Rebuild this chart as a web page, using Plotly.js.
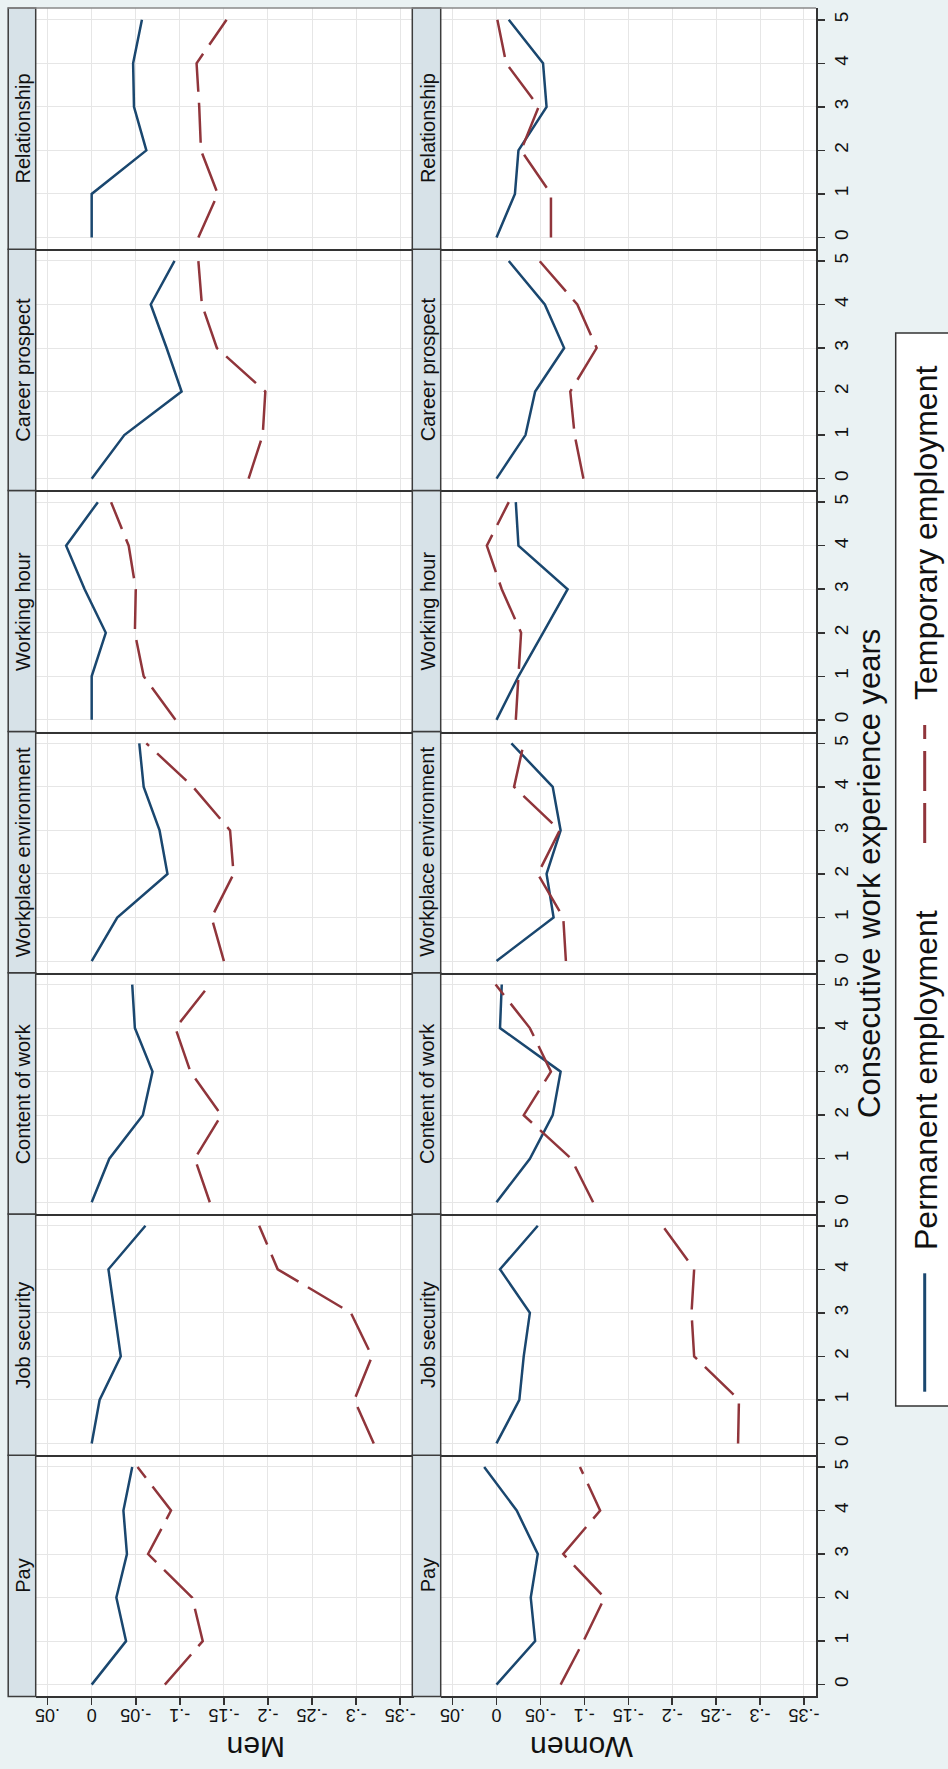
<!DOCTYPE html>
<html><head><meta charset="utf-8">
<script src="https://cdn.plot.ly/plotly-3.0.1.min.js"></script>
<style>html,body{margin:0;padding:0;background:#EAF2F3;} #chart{width:948px;height:1769px;}</style>
</head><body><div id="chart"></div>
<script>
// ---------------- data ----------------
const years = [0, 1, 2, 3, 4, 5];
const yearLabels = ['0', '1', '2', '3', '4', '5'];
const domains = ['Pay', 'Job security', 'Content of work', 'Workplace environment', 'Working hour', 'Career prospect', 'Relationship'];
const genders = ['Men', 'Women'];
const seriesNames = ['Permanent employment', 'Temporary employment'];
const valueTicks = [0.05, 0, -0.05, -0.1, -0.15, -0.2, -0.25, -0.3, -0.35];
const valueTickLabels = ['.05', '0', '-.05', '-.1', '-.15', '-.2', '-.25', '-.3', '-.35'];
const xTitle = 'Consecutive work experience years';

// rows follow "domains"; each row = values for years 0..5
const menPermanent = [
  [0, -0.039, -0.028, -0.040, -0.036, -0.046],
  [0, -0.009, -0.033, -0.026, -0.019, -0.061],
  [0, -0.020, -0.058, -0.069, -0.049, -0.046],
  [0, -0.029, -0.086, -0.077, -0.059, -0.054],
  [0, 0, -0.016, 0.008, 0.029, -0.007],
  [0, -0.037, -0.102, -0.085, -0.067, -0.094],
  [0, 0, -0.062, -0.048, -0.047, -0.057]
];
const menTemporary = [
  [-0.083, -0.126, -0.114, -0.064, -0.090, -0.052],
  [-0.320, -0.298, -0.318, -0.294, -0.211, -0.190],
  [-0.134, -0.117, -0.147, -0.112, -0.095, -0.134],
  [-0.150, -0.136, -0.161, -0.157, -0.115, -0.062],
  [-0.095, -0.059, -0.049, -0.050, -0.042, -0.022],
  [-0.178, -0.194, -0.197, -0.142, -0.125, -0.121],
  [-0.121, -0.143, -0.124, -0.122, -0.119, -0.153]
];
const womenPermanent = [
  [0, -0.044, -0.039, -0.047, -0.023, 0.014],
  [0, -0.026, -0.031, -0.038, -0.004, -0.047],
  [0, -0.038, -0.064, -0.073, -0.004, -0.006],
  [0, -0.065, -0.057, -0.073, -0.064, -0.017],
  [0, -0.025, -0.053, -0.081, -0.025, -0.022],
  [0, -0.033, -0.044, -0.077, -0.055, -0.014],
  [0, -0.021, -0.025, -0.057, -0.053, -0.014]
];
const womenTemporary = [
  [-0.073, -0.099, -0.123, -0.076, -0.118, -0.095],
  [-0.275, -0.276, -0.225, -0.222, -0.225, -0.189],
  [-0.110, -0.085, -0.031, -0.062, -0.038, 0.001],
  [-0.079, -0.076, -0.047, -0.072, -0.020, -0.031],
  [-0.022, -0.025, -0.028, -0.006, 0.011, -0.014],
  [-0.099, -0.089, -0.084, -0.114, -0.092, -0.049],
  [-0.062, -0.062, -0.028, -0.048, -0.011, -0.001]
];

// ---------------- geometry / style ----------------
const W = 948, H = 1769;
const fx = x => x / W;
const fy = y => 1 - y / H;
const cols = [
  { stripL: 8.2, stripR: 35.7, plotL: 35.7, plotR: 412.3, label: 256 },
  { stripL: 412.3, stripR: 440.7, plotL: 440.7, plotR: 816, label: 582 }
];
const panelTop0 = 8, panelH = 241.2;
const navy = '#1A476F', maroon = '#90353B';
const bg = '#EAF2F3', stripFill = '#D7E2E8', dark = '#333333', grid = '#E6E6E6';
const FONT = 'Liberation Sans, Arial, sans-serif';
const xRange = [0.0635, -0.3637];
const yRange = [-0.27, 5.27];

const data = [Object.assign({})].slice(1);
const layout = {
  width: W, height: H,
  margin: { l: 0, r: 0, t: 0, b: 0, pad: 0 },
  paper_bgcolor: bg, plot_bgcolor: '#FFFFFF',
  showlegend: false,
  font: { family: FONT, color: '#111' },
  shapes: [], annotations: []
};

const sets = [[menPermanent, menTemporary], [womenPermanent, womenTemporary]];
let n = 0;
for (let c = 0; c < 2; c++) {
  for (let i = 0; i < domains.length; i++) {
    n++;
    const k = domains.length - 1 - i; // 0 = top panel
    const top = panelTop0 + k * panelH, bot = top + panelH;
    const col = cols[c];
    const xa = 'xaxis' + (n === 1 ? '' : n), ya = 'yaxis' + (n === 1 ? '' : n);
    const xr = 'x' + (n === 1 ? '' : n), yr = 'y' + (n === 1 ? '' : n);
    const isBottom = (i === 0);
    const isRight = (c === 1);
    layout[xa] = {
      domain: [fx(col.plotL), fx(col.plotR)], anchor: yr, range: xRange,
      tickmode: 'array', tickvals: valueTicks, ticktext: valueTickLabels,
      showgrid: true, gridcolor: grid, gridwidth: 1, zeroline: false,
      showline: true, linecolor: dark, linewidth: 2,
      ticks: isBottom ? 'outside' : '', ticklen: 7, tickwidth: 1.5, tickcolor: dark,
      showticklabels: isBottom, tickangle: 180,
      tickfont: { family: FONT, size: 18, color: '#111' }, fixedrange: true
    };
    layout[ya] = {
      domain: [fy(bot), fy(top)], anchor: xr, range: yRange, side: 'right',
      tickmode: 'array', tickvals: years, ticktext: yearLabels,
      showgrid: true, gridcolor: grid, gridwidth: 1, zeroline: false,
      showline: true, linecolor: dark, linewidth: 2,
      ticks: isRight ? 'outside' : '', ticklen: 7, tickwidth: 1.5, tickcolor: dark,
      showticklabels: isRight, tickangle: -90,
      tickfont: { family: FONT, size: 19, color: '#111' }, fixedrange: true
    };
    const [perm, temp] = sets[c];
    data.push({ type: 'scatter', mode: 'lines', x: perm[i], y: years, xaxis: xr, yaxis: yr,
      name: seriesNames[0], line: { color: navy, width: 2.5 }, hoverinfo: 'skip' });
    data.push({ type: 'scatter', mode: 'lines', x: temp[i], y: years, xaxis: xr, yaxis: yr,
      name: seriesNames[1], line: { color: maroon, width: 2.5, dash: '40px,11px' }, hoverinfo: 'skip' });
    // strip
    layout.shapes.push({ type: 'rect', xref: 'paper', yref: 'paper',
      x0: fx(col.stripL), x1: fx(col.stripR), y0: fy(bot), y1: fy(top),
      fillcolor: stripFill, line: { color: '#3c3c3c', width: 1.5 } });
    layout.annotations.push({ xref: 'paper', yref: 'paper', x: fx((col.stripL + col.stripR) / 2 + 1),
      y: fy((top + bot) / 2), text: domains[i], textangle: -90, showarrow: false,
      xanchor: 'center', yanchor: 'middle', font: { family: FONT, size: 20, color: '#111' } });
  }
}
// top border
layout.shapes.push({ type: 'line', xref: 'paper', yref: 'paper', x0: fx(8.2), x1: fx(816), y0: fy(8), y1: fy(8),
  line: { color: '#8a8a8a', width: 1.5 } });

// row titles (Men / Women), upside down
for (let c = 0; c < 2; c++) {
  layout.annotations.push({ xref: 'paper', yref: 'paper', x: fx(cols[c].label), y: fy(1748),
    text: genders[c], textangle: 180, showarrow: false, xanchor: 'center', yanchor: 'middle',
    font: { family: FONT, size: 30, color: '#111' } });
}
// axis title
layout.annotations.push({ xref: 'paper', yref: 'paper', x: fx(869), y: fy(874), text: xTitle,
  textangle: -90, showarrow: false, xanchor: 'center', yanchor: 'middle',
  font: { family: FONT, size: 31, color: '#111' } });

// legend box
layout.shapes.push({ type: 'rect', xref: 'paper', yref: 'paper', x0: fx(895.7), x1: fx(975), y0: fy(1406), y1: fy(333),
  fillcolor: '#FFFFFF', line: { color: dark, width: 1.5 } });
layout.shapes.push({ type: 'line', xref: 'paper', yref: 'paper', x0: fx(924.7), x1: fx(924.7), y0: fy(1391.7), y1: fy(1273.3),
  line: { color: navy, width: 3 } });
layout.shapes.push({ type: 'line', xref: 'paper', yref: 'paper', x0: fx(924.7), x1: fx(924.7), y0: fy(843), y1: fy(725),
  line: { color: maroon, width: 3, dash: '40px,12px' } });
layout.annotations.push({ xref: 'paper', yref: 'paper', x: fx(926), y: fy(1080), text: seriesNames[0],
  textangle: -90, showarrow: false, xanchor: 'center', yanchor: 'middle',
  font: { family: FONT, size: 32, color: '#111' } });
layout.annotations.push({ xref: 'paper', yref: 'paper', x: fx(926), y: fy(533), text: seriesNames[1],
  textangle: -90, showarrow: false, xanchor: 'center', yanchor: 'middle',
  font: { family: FONT, size: 32, color: '#111' } });

Plotly.newPlot('chart', data, layout, { staticPlot: true, displayModeBar: false });
</script>
</body></html>
